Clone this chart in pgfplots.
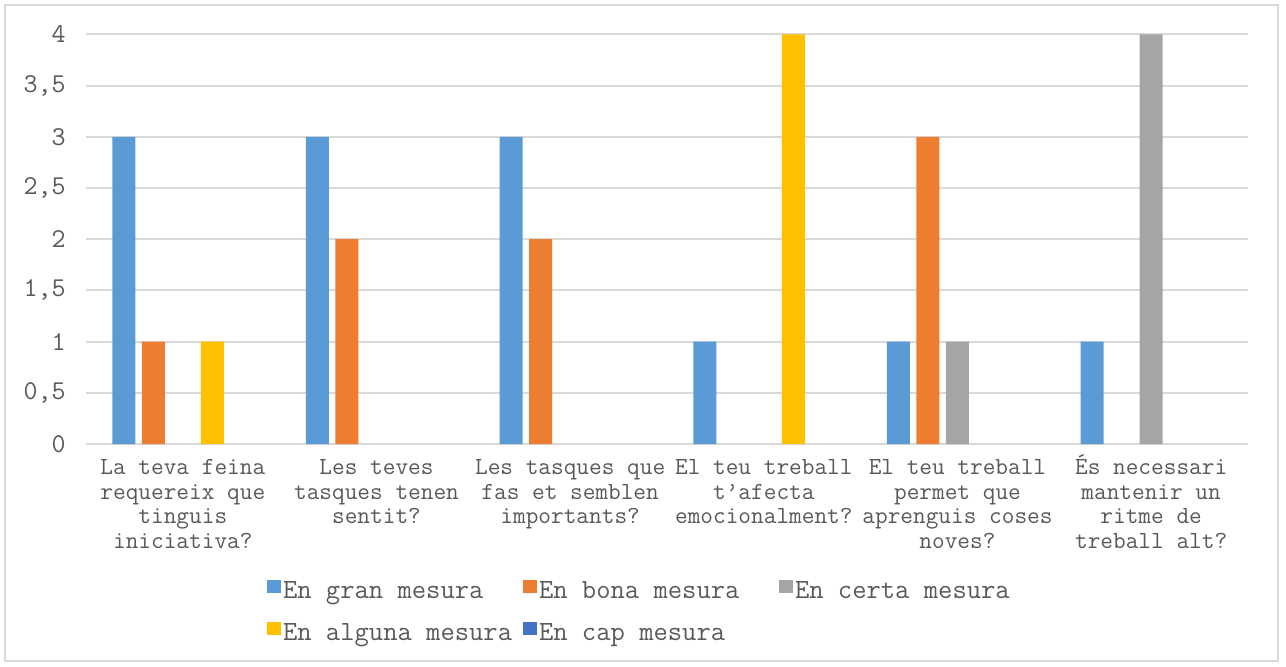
\documentclass[border=0pt]{standalone}
\usepackage{pgfplots}
\pgfplotsset{compat=1.18}
\usepackage{fontspec}

\definecolor{cGran}{HTML}{5B9BD5}
\definecolor{cBona}{HTML}{ED7D31}
\definecolor{cCerta}{HTML}{A5A5A5}
\definecolor{cAlguna}{HTML}{FFC000}
\definecolor{cCap}{HTML}{4472C4}
\definecolor{txt}{HTML}{595959}
\definecolor{gridc}{HTML}{D9D9D9}

\newcommand{\legtext}[1]{\makebox[120pt][l]{#1}}
% same top line height for every category label (accented or not)
\newcommand{\tl}{\vphantom{É}}

\begin{document}
\begin{tikzpicture}
\useasboundingbox (0,0) rectangle (643pt,333pt);
\draw[gridc, line width=1pt] (2.5pt,2.5pt) rectangle (639pt,330.5pt);
\begin{axis}[
  at={(43pt,111pt)}, anchor=south west,
  scale only axis,
  width=581pt, height=204.8pt,
  ybar=3.25pt, bar width=11.5pt,
  xmin=-0.5, xmax=5.5,
  ymin=0, ymax=4,
  xtick={0,1,2,3,4,5},
  ytick={0,0.5,1,1.5,2,2.5,3,3.5,4},
  xticklabels={
    {\tl La teva feina\\requereix que\\tinguis\\iniciativa?},
    {\tl Les teves\\tasques tenen\\sentit?},
    {\tl Les tasques que\\fas et semblen\\importants?},
    {\tl El teu treball\\t’afecta\\emocionalment?},
    {\tl El teu treball\\permet que\\aprenguis coses\\noves?},
    {\tl És necessari\\mantenir un\\ritme de\\treball alt?}},
  /pgf/number format/assume math mode=true,
  /pgf/number format/use comma,
  axis line style={draw=none},
  major tick length=0pt,
  ymajorgrids,
  grid style={gridc, line width=1pt},
  xticklabel style={align=center, text=txt, inner sep=0pt, yshift=-5.25pt,
    font=\ttfamily\fontsize{12.3}{12.25}\selectfont},
  yticklabel style={text=txt, inner sep=0pt, xshift=-10pt,
    font=\ttfamily\fontsize{13.6}{14}\selectfont},
  legend columns=3,
  legend style={
    at={(axis description cs:0.1558,-0.332)}, anchor=north west,
    draw=none, fill=none, inner sep=0pt, outer sep=0pt,
    row sep=8.5pt, column sep=0pt,
    font=\ttfamily\fontsize{13.9}{14}\selectfont, text=txt,
    nodes={inner sep=0pt, text height=9pt, text depth=3pt},
    /tikz/every odd column/.append style={column sep=1pt}},
  legend image code/.code={\fill[#1] (0pt,0pt) rectangle (7pt,6.5pt);},
  every axis plot/.append style={draw=none},
]
% En gran mesura
\addplot[fill=cGran] coordinates {(0,3) (1,3) (2,3) (3,1) (4,1) (5,1)};
\addlegendentry{\legtext{En gran mesura}}
% En bona mesura (no answers for the 4th and 6th questions)
\addplot[fill=cBona] coordinates {(0,1) (1,2) (2,2) (4,3)};
\addlegendentry{\legtext{En bona mesura}}
% En certa mesura
\addplot[fill=cCerta] coordinates {(4,1) (5,4)};
\addlegendentry{\legtext{En certa mesura}}
% En alguna mesura
\addplot[fill=cAlguna] coordinates {(0,1) (3,4)};
\addlegendentry{\legtext{En alguna mesura}}
% En cap mesura: nobody chose it; one bar beyond xmax keeps the series
% slot and its legend entry while staying outside the clipped area
\addplot[fill=cCap] coordinates {(8,1)};
\addlegendentry{\legtext{En cap mesura}}
\end{axis}
\end{tikzpicture}
\end{document}
